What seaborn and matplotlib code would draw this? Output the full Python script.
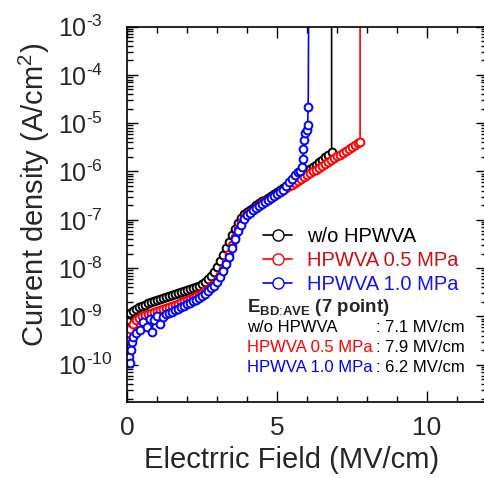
import numpy as np
import seaborn as sns
import matplotlib
matplotlib.use("Agg")
import matplotlib.pyplot as plt
from matplotlib.lines import Line2D
from matplotlib.ticker import LogLocator, MultipleLocator, NullFormatter, FuncFormatter

# ---------------- data ----------------
series_names = ["w/o HPWVA", "HPWVA 0.5 MPa", "HPWVA 1.0 MPa"]
series_colors = ["#000000", "#ff0000", "#0000ff"]
legend_text_colors = ["#000000", "#cc1010", "#1515ee"]

E_black = [0.00, 0.05, 0.10, 0.20, 0.30, 0.40, 0.50, 0.60, 0.70, 0.80, 0.90,
           1.00, 1.10, 1.20, 1.30, 1.40, 1.50, 1.60, 1.70, 1.80, 1.90,
           2.00, 2.10, 2.20, 2.30, 2.40, 2.50, 2.60, 2.70, 2.80, 2.90,
           3.00, 3.10, 3.20, 3.30, 3.40, 3.50, 3.60, 3.70, 3.80, 3.90,
           4.00, 4.10, 4.20, 4.30, 4.40, 4.50, 4.60, 4.70, 4.80, 4.90,
           5.00, 5.10, 5.20, 5.30, 5.40, 5.50, 5.60, 5.70, 5.80, 5.90,
           6.00, 6.10, 6.20, 6.30, 6.40, 6.50, 6.60, 6.70, 6.82, 6.82]
logJ_black = [-9.08, -8.95, -8.92, -8.88, -8.84, -8.80, -8.78, -8.76, -8.73, -8.70, -8.68,
              -8.66, -8.64, -8.62, -8.60, -8.58, -8.56, -8.54, -8.52, -8.50, -8.48,
              -8.46, -8.44, -8.42, -8.39, -8.36, -8.33, -8.29, -8.23, -8.16, -8.08,
              -7.98, -7.86, -7.73, -7.59, -7.45, -7.31, -7.18, -7.06, -6.96, -6.88,
              -6.84, -6.79, -6.75, -6.70, -6.66, -6.62, -6.58, -6.54, -6.50, -6.47,
              -6.43, -6.39, -6.35, -6.31, -6.27, -6.23, -6.18, -6.14, -6.09, -6.05,
              -6.00, -5.95, -5.90, -5.86, -5.81, -5.76, -5.71, -5.66, -5.60, -1.00]

E_red = [0.00, 0.03, 0.06, 0.10, 0.20, 0.30, 0.40, 0.50, 0.60, 0.70, 0.80, 0.90,
         1.00, 1.10, 1.20, 1.30, 1.40, 1.50, 1.60, 1.70, 1.80, 1.90,
         2.00, 2.10, 2.20, 2.30, 2.40, 2.50, 2.60, 2.70, 2.80, 2.90,
         3.00, 3.10, 3.20, 3.30, 3.40, 3.50, 3.60, 3.70, 3.80, 3.90,
         4.00, 4.10, 4.20, 4.30, 4.40, 4.50, 4.60, 4.70, 4.80, 4.90,
         5.00, 5.10, 5.20, 5.30, 5.40, 5.50, 5.60, 5.70, 5.80, 5.90,
         6.00, 6.10, 6.20, 6.30, 6.40, 6.50, 6.60, 6.70, 6.80, 6.90,
         7.00, 7.10, 7.20, 7.30, 7.40, 7.50, 7.60, 7.70, 7.77, 7.77]
logJ_red = [-9.80, -9.50, -9.35, -9.25, -9.15, -9.08, -9.04, -9.00, -8.97, -8.95, -8.93, -8.91,
            -8.89, -8.87, -8.85, -8.83, -8.80, -8.78, -8.76, -8.74, -8.71, -8.69,
            -8.66, -8.64, -8.61, -8.58, -8.55, -8.51, -8.47, -8.43, -8.38, -8.32,
            -8.25, -8.15, -8.02, -7.87, -7.70, -7.52, -7.35, -7.20, -7.07, -6.97,
            -6.89, -6.84, -6.79, -6.75, -6.70, -6.66, -6.62, -6.58, -6.54, -6.50,
            -6.46, -6.42, -6.38, -6.35, -6.31, -6.27, -6.23, -6.19, -6.16, -6.12,
            -6.08, -6.04, -6.00, -5.97, -5.93, -5.89, -5.85, -5.81, -5.77, -5.73,
            -5.69, -5.65, -5.61, -5.57, -5.53, -5.49, -5.45, -5.42, -5.39, -1.00]

E_blue = [0.05, 0.10, 0.13, 0.17, 0.20, 0.30, 0.43, 0.54, 0.65, 0.75, 0.82, 0.90,
          1.00, 1.10, 1.21, 1.30, 1.40, 1.50, 1.60, 1.70, 1.80, 1.90,
          2.00, 2.10, 2.20, 2.30, 2.40, 2.50, 2.60, 2.70, 2.80, 2.90,
          3.00, 3.10, 3.20, 3.30, 3.40, 3.50, 3.60, 3.70, 3.80, 3.90,
          4.00, 4.10, 4.20, 4.30, 4.40, 4.50, 4.60, 4.70, 4.80, 4.90,
          5.00, 5.10, 5.20, 5.30, 5.40, 5.50, 5.60, 5.70, 5.77, 5.82,
          5.86, 5.87, 5.90, 5.94, 5.99, 6.02, 6.04, 6.07]
logJ_blue = [-9.84, -9.97, -9.70, -9.53, -9.42, -9.35, -9.28, -9.11, -9.21, -9.05, -9.32, -9.08,
             -8.99, -9.15, -9.01, -8.95, -8.92, -8.90, -8.87, -8.84, -8.81, -8.78,
             -8.75, -8.72, -8.69, -8.66, -8.62, -8.58, -8.53, -8.48, -8.42, -8.36,
             -8.28, -8.18, -8.06, -7.92, -7.76, -7.58, -7.40, -7.24, -7.10, -6.99,
             -6.91, -6.85, -6.80, -6.75, -6.71, -6.67, -6.63, -6.59, -6.55, -6.51,
             -6.47, -6.43, -6.38, -6.30, -6.22, -6.15, -6.08, -6.02, -5.99, -5.90,
             -5.74, -5.53, -5.35, -5.21, -5.14, -5.04, -4.66, -1.00]

ebd_title = r"$\mathbf{E}_{\mathbf{BD}\text{:}\mathbf{AVE}}$ (7 point)"
ebd_labels = ["w/o HPWVA", "HPWVA 0.5 MPa", "HPWVA 1.0 MPa"]
ebd_values = [": 7.1 MV/cm", ": 7.9 MV/cm", ": 6.2 MV/cm"]
ebd_colors = ["#000000", "#ff0000", "#0000ff"]

# ---------------- style ----------------
sns.set_theme(style="ticks")
plt.rcParams["font.family"] = ["Liberation Sans", "DejaVu Sans"]
plt.rcParams["mathtext.fontset"] = "custom"
plt.rcParams["mathtext.rm"] = "Liberation Sans"
plt.rcParams["mathtext.it"] = "Liberation Sans:italic"
plt.rcParams["mathtext.bf"] = "Liberation Sans:bold"
plt.rcParams["mathtext.default"] = "regular"

W, H = 484, 478
fig = plt.figure(figsize=(W / 100, H / 100), dpi=100)
fig.patch.set_facecolor("white")
ax = fig.add_axes([127 / W, 1 - 402 / H, 360 / W, 375.5 / H])
ax.set_facecolor("white")

ax.set_yscale("log")
for E, lj, c in zip([E_black, E_red, E_blue], [logJ_black, logJ_red, logJ_blue], series_colors):
    J = 10.0 ** np.array(lj)
    sns.lineplot(x=np.array(E), y=J, ax=ax, color=c, sort=False, estimator=None,
                 linewidth=1.2, marker="o", markersize=5.6,
                 markerfacecolor="white", markeredgecolor=c, markeredgewidth=1.4,
                 legend=False)

ax.set_xlim(0, 12)
ax.set_ylim(10 ** -10.77, 1e-3)
ax.set_xlabel("")
ax.set_ylabel("")

def log_fmt(v, pos):
    e = int(round(np.log10(v)))
    return r"$10^{\text{%d}}$" % e

ax.xaxis.set_major_locator(MultipleLocator(5))
ax.xaxis.set_minor_locator(MultipleLocator(1))
ax.yaxis.set_major_locator(LogLocator(base=10, numticks=20))
ax.yaxis.set_major_formatter(FuncFormatter(log_fmt))
ax.yaxis.set_minor_locator(LogLocator(base=10, subs=np.arange(2, 10), numticks=20))
ax.yaxis.set_minor_formatter(NullFormatter())

ax.tick_params(which="both", direction="in", top=True, right=True, width=1.0, color="black")
ax.tick_params(which="major", length=8)
ax.tick_params(which="minor", length=4)
ax.tick_params(axis="x", which="major", labelsize=19, pad=10)
ax.tick_params(axis="y", which="major", labelsize=18, pad=50)
for lab in ax.get_yticklabels():
    lab.set_horizontalalignment("left")
for sp in ax.spines.values():
    sp.set_linewidth(1.2)
    sp.set_color("black")

fig.text(291.5 / W, 1 - 460 / H, "Electrric Field (MV/cm)", ha="center", va="center", fontsize=21)
fig.text(34 / W, 1 - 195 / H, r"Current density (A/cm$^{2}$)", ha="center", va="center",
         rotation=90, fontsize=21)

# legend
handles = [Line2D([], [], color=c, linewidth=1.2, marker="o", markersize=8,
                  markerfacecolor="white", markeredgecolor=c, markeredgewidth=1.0)
           for c in series_colors]
leg = ax.legend(handles, series_names, loc="upper left",
                bbox_to_anchor=((263 - 127) / 360, (402 - 227) / 375.5),
                frameon=False, fontsize=14.5, handlelength=1.45, handletextpad=0.75,
                labelspacing=0.25, borderpad=0, borderaxespad=0)
for t, c in zip(leg.get_texts(), legend_text_colors):
    t.set_color(c)

# E_BD annotation block
def axx(px):
    return (px - 127) / 360

def axy(py):
    return (402 - py) / 375.5

ax.text(axx(247), axy(308), ebd_title, transform=ax.transAxes, fontsize=13.5,
        fontweight="bold", ha="left", va="center")
rows_y = [328, 348, 368]
for lab, val, c, yy in zip(ebd_labels, ebd_values, ebd_colors, rows_y):
    ax.text(axx(247), axy(yy), lab, transform=ax.transAxes, fontsize=12, color=c,
            ha="left", va="center")
    ax.text(axx(376), axy(yy), val, transform=ax.transAxes, fontsize=12, color="black",
            ha="left", va="center")

fig.savefig("out.png", dpi=100, facecolor="white")
